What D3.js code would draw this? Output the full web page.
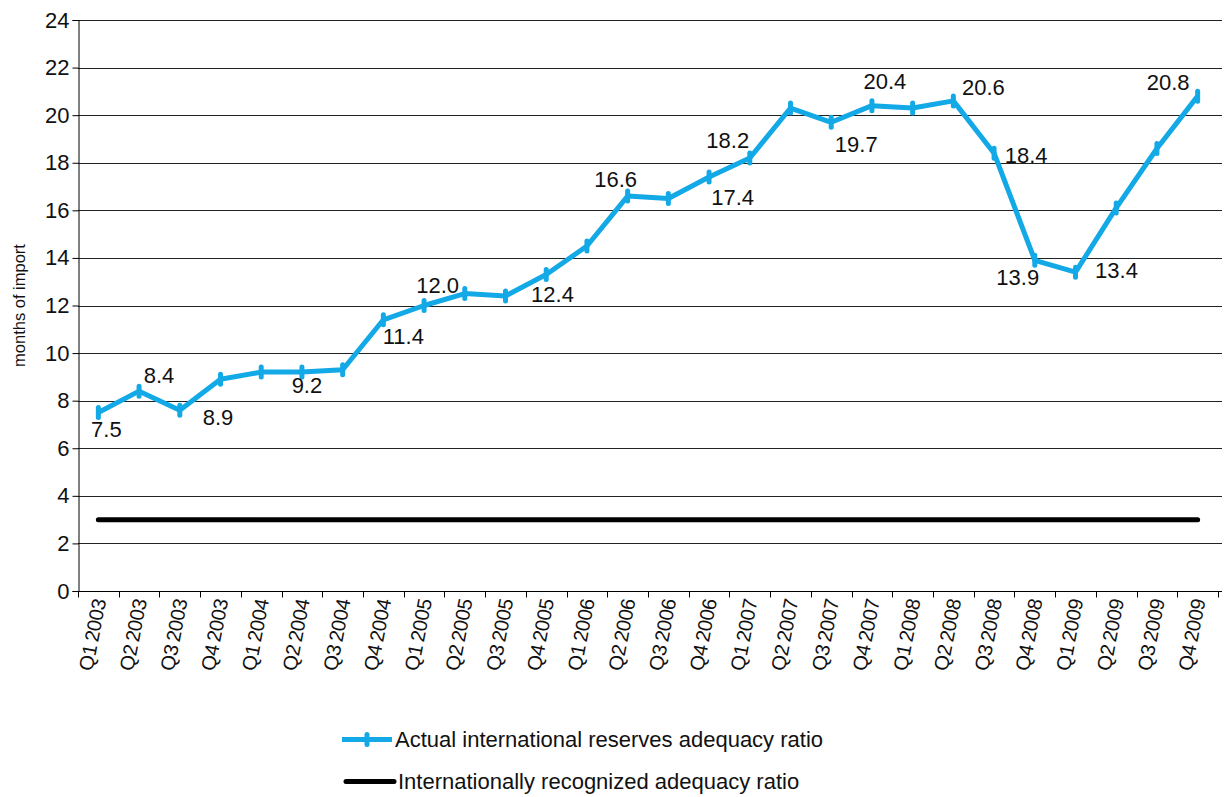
<!DOCTYPE html>
<html>
<head>
<meta charset="utf-8">
<script src="https://cdn.jsdelivr.net/npm/d3@7/dist/d3.min.js"></script>
<style>
  html, body { margin: 0; padding: 0; background: #fff; }
  svg { display: block; font-family: "Liberation Sans", Arial, Helvetica, sans-serif; }
</style>
</head>
<body>
<svg id="chart" width="1224" height="797"></svg>
<script>
// ---- data ----
const categories = [
  "Q1 2003","Q2 2003","Q3 2003","Q4 2003",
  "Q1 2004","Q2 2004","Q3 2004","Q4 2004",
  "Q1 2005","Q2 2005","Q3 2005","Q4 2005",
  "Q1 2006","Q2 2006","Q3 2006","Q4 2006",
  "Q1 2007","Q2 2007","Q3 2007","Q4 2007",
  "Q1 2008","Q2 2008","Q3 2008","Q4 2008",
  "Q1 2009","Q2 2009","Q3 2009","Q4 2009"
];
const actualRatio = [7.5, 8.4, 7.6, 8.9, 9.2, 9.2, 9.3, 11.4, 12.0, 12.5, 12.4, 13.3, 14.5, 16.6, 16.5, 17.4, 18.2, 20.3, 19.7, 20.4, 20.3, 20.6, 18.4, 13.9, 13.4, 16.1, 18.6, 20.8];
const recognizedRatio = [3, 3, 3, 3, 3, 3, 3, 3, 3, 3, 3, 3, 3, 3, 3, 3, 3, 3, 3, 3, 3, 3, 3, 3, 3, 3, 3, 3];
const yTicks = [0, 2, 4, 6, 8, 10, 12, 14, 16, 18, 20, 22, 24];
const labeledPoints = [0, 1, 3, 5, 7, 8, 10, 13, 15, 16, 18, 19, 21, 22, 23, 24, 27];
const seriesNames = ["Actual international reserves adequacy ratio", "Internationally recognized adequacy ratio"];
const yTitle = "months of import";

// ---- label placement (offset of label centre from its point, px) ----
const labelOffsets = {
  0: [8, 17], 1: [20, -15.5], 3: [-2.5, 38], 5: [5, 13], 7: [20, 17], 8: [13.5, -20.5],
  10: [47, -2], 13: [-12, -17], 15: [23.5, 20.5], 16: [-22, -18], 18: [25, 22],
  19: [13, -24], 21: [30, -13.5], 22: [32, 2], 23: [-17, 17], 24: [41, -2], 27: [-29.5, -14]
};

// ---- layout ----
const blue = "#12A9E6";
const plotLeft = 78, plotRight = 1218, gridRight = 1222, plotTop = 20, plotBottom = 591;
const svg = d3.select("#chart");

const x = d3.scaleBand().domain(categories).range([plotLeft, plotRight]).padding(0);
const y = d3.scaleLinear().domain([0, 24]).range([plotBottom, plotTop]);
const cx = c => x(c) + x.bandwidth() / 2;

// gridlines
svg.append("g").selectAll("line").data(yTicks.filter(d => d > 0)).join("line")
  .attr("x1", plotLeft).attr("x2", gridRight)
  .attr("y1", d => Math.round(y(d)) + 0.5).attr("y2", d => Math.round(y(d)) + 0.5)
  .attr("stroke", "#222").attr("stroke-width", 1);

// y axis
const yAxis = svg.append("g").attr("transform", `translate(${plotLeft + 0.5},0)`)
  .call(d3.axisLeft(y).tickValues(yTicks).tickSize(6).tickPadding(3).tickFormat(d3.format("d")));
yAxis.select(".domain").attr("stroke", "#000");
yAxis.selectAll(".tick line").attr("stroke", "#000");
yAxis.selectAll("text").attr("font-size", 22).attr("fill", "#111").attr("font-family", "Liberation Sans, Arial, sans-serif");

// x axis
const xAxis = svg.append("g").attr("transform", `translate(0,${Math.round(plotBottom) + 0.5})`)
  .call(d3.axisBottom(x).tickSize(0).tickFormat(""));
xAxis.select(".domain").attr("d", `M${plotLeft},0H${gridRight}`).attr("stroke", "#000");
xAxis.selectAll(".tick").remove();
// boundary ticks
xAxis.append("g").selectAll("line").data(d3.range(categories.length + 1)).join("line")
  .attr("x1", i => Math.round(plotLeft + i * x.step()) + 0.5)
  .attr("x2", i => Math.round(plotLeft + i * x.step()) + 0.5)
  .attr("y1", 0).attr("y2", 6).attr("stroke", "#000");
// rotated category labels
svg.append("g").selectAll("text").data(categories).join("text")
  .attr("transform", d => `translate(${cx(d) + 1},${plotBottom + 8}) rotate(-79)`)
  .attr("text-anchor", "end").attr("dy", "0.35em")
  .attr("font-size", 20).attr("word-spacing", "-2px").attr("letter-spacing", "-0.3px").attr("fill", "#111")
  .text(d => d);

// y title
svg.append("text")
  .attr("transform", `translate(19,${(plotTop + plotBottom) / 2}) rotate(-90)`)
  .attr("text-anchor", "middle").attr("dy", "0.35em")
  .attr("font-size", 16.5).attr("fill", "#111")
  .text(yTitle);

// recognized ratio line
svg.append("path")
  .datum(recognizedRatio)
  .attr("d", d3.line().x((d, i) => cx(categories[i])).y(d => y(d)))
  .attr("fill", "none").attr("stroke", "#000").attr("stroke-width", 5).attr("stroke-linecap", "round");

// actual ratio line
svg.append("path")
  .datum(actualRatio)
  .attr("d", d3.line().x((d, i) => cx(categories[i])).y(d => y(d)))
  .attr("fill", "none").attr("stroke", blue).attr("stroke-width", 5).attr("stroke-linejoin", "round");

// markers
svg.append("g").selectAll("line").data(actualRatio).join("line")
  .attr("x1", (d, i) => cx(categories[i])).attr("x2", (d, i) => cx(categories[i]))
  .attr("y1", d => y(d) - 5).attr("y2", d => y(d) + 5)
  .attr("stroke", blue).attr("stroke-width", 5).attr("stroke-linecap", "round");

// data labels
svg.append("g").selectAll("text").data(labeledPoints).join("text")
  .attr("x", i => cx(categories[i]) + labelOffsets[i][0])
  .attr("y", i => y(actualRatio[i]) + labelOffsets[i][1])
  .attr("dy", "0.35em").attr("text-anchor", "middle")
  .attr("font-size", 22).attr("fill", "#111")
  .text(i => d3.format(".1f")(actualRatio[i]));

// legend
const legend = svg.append("g");
const lg1 = legend.append("g").attr("transform", "translate(0,739.5)");
lg1.append("line").attr("x1", 342).attr("x2", 392).attr("y1", 0).attr("y2", 0)
  .attr("stroke", blue).attr("stroke-width", 5);
lg1.append("line").attr("x1", 367).attr("x2", 367).attr("y1", -5).attr("y2", 5)
  .attr("stroke", blue).attr("stroke-width", 5).attr("stroke-linecap", "round");
lg1.append("text").attr("x", 395).attr("y", 0).attr("dy", "0.35em")
  .attr("font-size", 22).attr("fill", "#111").text(seriesNames[0]);
const lg2 = legend.append("g").attr("transform", "translate(0,781.5)");
lg2.append("line").attr("x1", 346).attr("x2", 394).attr("y1", 0).attr("y2", 0)
  .attr("stroke", "#000").attr("stroke-width", 5).attr("stroke-linecap", "round");
lg2.append("text").attr("x", 398).attr("y", 0).attr("dy", "0.35em")
  .attr("font-size", 22).attr("fill", "#111").text(seriesNames[1]);
</script>
</body>
</html>
